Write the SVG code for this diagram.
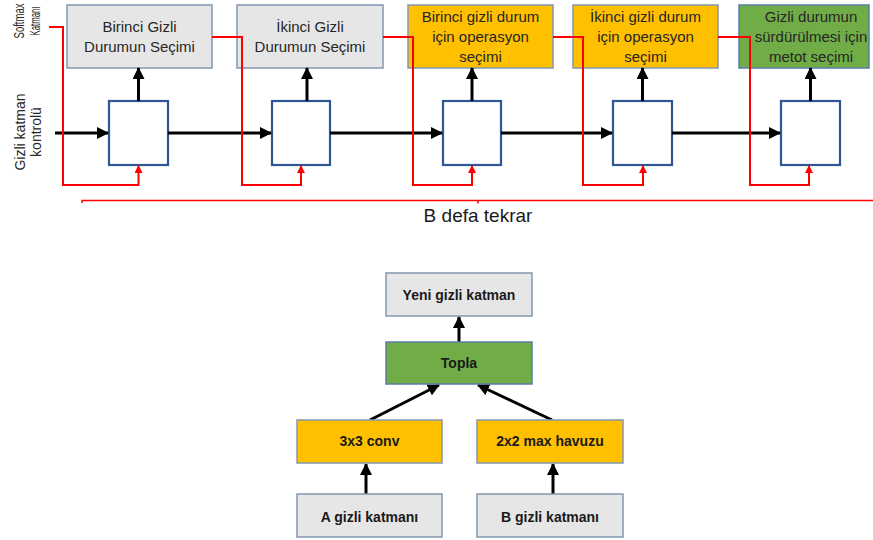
<svg xmlns="http://www.w3.org/2000/svg" width="873" height="540" viewBox="0 0 873 540">
  <defs>
    <style>
      text { font-family: "Liberation Sans", Arial, sans-serif; fill: #262626; }
      .lbl { font-size: 15px; text-anchor: middle; }
      .side { font-size: 14px; text-anchor: middle; }
      .bold { font-size: 14px; font-weight: bold; text-anchor: middle; fill: #1a1a1a; }
      .gray { fill: #e7e6e6; stroke: #8497b0; stroke-width: 1.5; }
      .orange { fill: #ffc000; stroke: #8497b0; stroke-width: 1.5; }
      .green { fill: #70ad47; stroke: #5b7ea6; stroke-width: 1.5; }
      .cell { fill: #ffffff; stroke: #2f5597; stroke-width: 2.2; }
      .blk { stroke: #000; stroke-width: 3; fill: none; }
      .red { stroke: #ff0000; stroke-width: 2; fill: none; }
    </style>
    <marker id="ah" markerUnits="userSpaceOnUse" markerWidth="12" markerHeight="12" refX="11" refY="6" orient="auto">
      <path d="M0,0 L12,6 L0,12 z" fill="#000"/>
    </marker>
    <marker id="rh" markerUnits="userSpaceOnUse" markerWidth="8" markerHeight="8" refX="7" refY="4" orient="auto">
      <path d="M0,0 L8,4 L0,8 z" fill="#ff0000"/>
    </marker>
  </defs>

  <!-- side labels (softmax label is condensed along its run) -->
  <g id="side-softmax">
    <text class="side" transform="translate(24,21) rotate(-90) scale(0.68,1)">Softmax</text>
    <text class="side" transform="translate(40,21) rotate(-90) scale(0.56,1)">Katmanı</text>
  </g>
  <g id="side-control">
    <text class="side" transform="translate(25,132) rotate(-90)">Gizli katman</text>
    <text class="side" transform="translate(41,132) rotate(-90)">kontrolü</text>
  </g>

  <!-- softmax selection boxes -->
  <g id="sel1">
    <rect class="gray" x="67" y="5" width="145" height="63"/>
    <text class="lbl" x="139.5" y="32">Birinci Gizli</text>
    <text class="lbl" x="139.5" y="52">Durumun Seçimi</text>
  </g>
  <g id="sel2">
    <rect class="gray" x="237" y="5" width="146" height="63"/>
    <text class="lbl" x="310" y="32">İkinci Gizli</text>
    <text class="lbl" x="310" y="52">Durumun Seçimi</text>
  </g>
  <g id="sel3">
    <rect class="orange" x="408" y="5" width="145" height="63"/>
    <text class="lbl" x="480.5" y="22">Birinci gizli durum</text>
    <text class="lbl" x="480.5" y="42">için operasyon</text>
    <text class="lbl" x="480.5" y="62">seçimi</text>
  </g>
  <g id="sel4">
    <rect class="orange" x="573" y="5" width="145" height="63"/>
    <text class="lbl" x="645.5" y="22">İkinci gizli durum</text>
    <text class="lbl" x="645.5" y="42">için operasyon</text>
    <text class="lbl" x="645.5" y="62">seçimi</text>
  </g>
  <g id="sel5">
    <rect class="green" x="739" y="5" width="130" height="63"/>
    <text class="lbl" x="811" y="22">Gizli durumun</text>
    <text class="lbl" x="811" y="42">sürdürülmesi için</text>
    <text class="lbl" x="811" y="62">metot seçimi</text>
  </g>

  <!-- controller cells -->
  <g id="cell1"><rect class="cell" x="109" y="101" width="59" height="64"/></g>
  <g id="cell2"><rect class="cell" x="272" y="101" width="58" height="64"/></g>
  <g id="cell3"><rect class="cell" x="443" y="101" width="58" height="64"/></g>
  <g id="cell4"><rect class="cell" x="613" y="101" width="59" height="64"/></g>
  <g id="cell5"><rect class="cell" x="781" y="101" width="59" height="64"/></g>

  <!-- connectors -->
  <g id="connectors">
    <!-- hidden state chain -->
    <line class="blk" x1="55" y1="133" x2="108" y2="133" marker-end="url(#ah)"/>
    <line class="blk" x1="168" y1="133" x2="271" y2="133" marker-end="url(#ah)"/>
    <line class="blk" x1="330" y1="133" x2="442" y2="133" marker-end="url(#ah)"/>
    <line class="blk" x1="501" y1="133" x2="612" y2="133" marker-end="url(#ah)"/>
    <line class="blk" x1="672" y1="133" x2="780" y2="133" marker-end="url(#ah)"/>
    <!-- cell outputs to selections -->
    <line class="blk" x1="138.5" y1="101" x2="138.5" y2="68" marker-end="url(#ah)"/>
    <line class="blk" x1="307" y1="101" x2="307" y2="68" marker-end="url(#ah)"/>
    <line class="blk" x1="472" y1="101" x2="472" y2="68" marker-end="url(#ah)"/>
    <line class="blk" x1="642.5" y1="101" x2="642.5" y2="68" marker-end="url(#ah)"/>
    <line class="blk" x1="810.5" y1="101" x2="810.5" y2="68" marker-end="url(#ah)"/>
    <!-- softmax feedback -->
    <polyline class="red" points="49,27 63,27 63,185 138.5,185 138.5,166" marker-end="url(#rh)"/>
    <polyline class="red" points="212,37 242,37 242,185 301,185 301,166" marker-end="url(#rh)"/>
    <polyline class="red" points="383,37 413,37 413,185 472,185 472,166" marker-end="url(#rh)"/>
    <polyline class="red" points="553,37 583,37 583,185 643,185 643,166" marker-end="url(#rh)"/>
    <polyline class="red" points="718,37 750,37 750,185 809,185 809,166" marker-end="url(#rh)"/>
    <!-- repeat bracket -->
    <polyline class="red" style="stroke-width:1.5" points="82,203 82,200.5 873,200.5"/>
    <line class="red" style="stroke-width:1.5" x1="478" y1="200.5" x2="478" y2="203.5"/>

    <!-- cell structure arrows -->
    <line class="blk" x1="459" y1="342" x2="459" y2="317" marker-end="url(#ah)"/>
    <line class="blk" x1="370" y1="420" x2="439" y2="385" marker-end="url(#ah)"/>
    <line class="blk" x1="552" y1="420" x2="478" y2="385" marker-end="url(#ah)"/>
    <line class="blk" x1="366" y1="494" x2="366" y2="464" marker-end="url(#ah)"/>
    <line class="blk" x1="553" y1="494" x2="553" y2="464" marker-end="url(#ah)"/>
  </g>

  <text x="478" y="222" style="font-size:19px;text-anchor:middle;fill:#1a1a1a">B defa tekrar</text>

  <!-- cell structure -->
  <g id="new-hidden">
    <rect class="gray" x="386" y="273" width="146" height="43"/>
    <text class="bold" x="459" y="300">Yeni gizli katman</text>
  </g>
  <g id="sum">
    <rect class="green" x="386" y="342" width="146" height="42"/>
    <text class="bold" x="459" y="368">Topla</text>
  </g>
  <g id="conv">
    <rect class="orange" x="297" y="420" width="145" height="43"/>
    <text class="bold" x="369.5" y="446">3x3 conv</text>
  </g>
  <g id="pool">
    <rect class="orange" x="477" y="420" width="146" height="43"/>
    <text class="bold" x="550" y="446">2x2 max havuzu</text>
  </g>
  <g id="hidden-a">
    <rect class="gray" x="297" y="494" width="145" height="43"/>
    <text class="bold" x="369.5" y="522">A gizli katmanı</text>
  </g>
  <g id="hidden-b">
    <rect class="gray" x="477" y="494" width="146" height="43"/>
    <text class="bold" x="550" y="522">B gizli katmanı</text>
  </g>
</svg>
